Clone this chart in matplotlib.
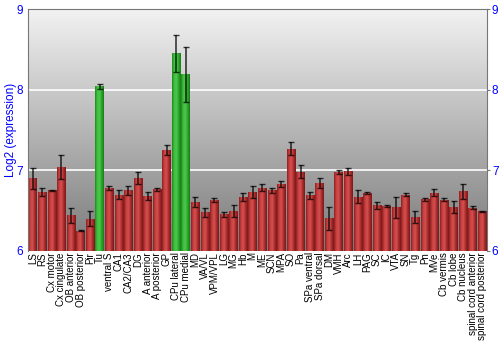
import numpy as np
import matplotlib.pyplot as plt
from matplotlib.colors import LinearSegmentedColormap

plt.rcParams['font.family'] = ['Liberation Sans', 'DejaVu Sans']

# brain regions and their log2 expression
regions = ['LS', 'RS', 'Cx motor', 'Cx cingulate', 'OB anterior', 'OB posterior', 'Pir', 'Tu',
           'ventral S', 'CA1', 'CA2/CA3', 'DG', 'A anterior', 'A posterior', 'GP',
           'CPu lateral', 'CPu medial', 'MD', 'VA/VL', 'VPM/VPL', 'LG', 'MG', 'Hb', 'M',
           'ME', 'SCN', 'MPA', 'SO', 'Pa', 'SPa ventral', 'SPa dorsal', 'DM', 'VMH', 'Arc',
           'LH', 'PAG', 'SC', 'IC', 'VTA', 'SN', 'Tg', 'Pn', 'MVe', 'Cb vermis', 'Cb lobe',
           'Cb nucleus', 'spinal cord anterior', 'spinal cord posterior']
values = [6.90, 6.73, 6.75, 7.04, 6.44, 6.25, 6.40, 8.04,
          6.78, 6.70, 6.75, 6.91, 6.68, 6.765, 7.25,
          8.45, 8.19, 6.61, 6.48, 6.63, 6.455, 6.50, 6.67, 6.73,
          6.785, 6.75, 6.83, 7.27, 6.98, 6.69, 6.84, 6.405, 6.98, 6.99,
          6.67, 6.72, 6.565, 6.56, 6.54, 6.70, 6.425, 6.64, 6.725, 6.635, 6.545,
          6.74, 6.535, 6.49]
errors = [0.13, 0.045, 0.005, 0.15, 0.095, 0.005, 0.09, 0.03,
          0.02, 0.05, 0.05, 0.075, 0.048, 0.02, 0.065,
          0.225, 0.34, 0.06, 0.054, 0.025, 0.033, 0.075, 0.05, 0.075,
          0.04, 0.025, 0.04, 0.085, 0.08, 0.04, 0.065, 0.14, 0.027, 0.045,
          0.08, 0.01, 0.045, 0.01, 0.135, 0.017, 0.075, 0.015, 0.043, 0.02, 0.07,
          0.09, 0.02, 0.008]
highlight = ['Tu', 'CPu lateral', 'CPu medial']

fig = plt.figure(figsize=(5, 3.5), dpi=100)
ax = fig.add_axes([0.056, 0.283, 0.918, 0.691])

x = np.arange(len(regions))
ax.set_xlim(-0.5, len(regions) - 0.5)
ax.set_ylim(6, 9)

# gray gradient background
bg = LinearSegmentedColormap.from_list('bg', ['#7a7a7a', '#f2f2f2'])
ax.imshow(np.linspace(0, 1, 256).reshape(-1, 1), cmap=bg, aspect='auto',
          extent=[-0.5, len(regions) - 0.5, 6, 9], origin='lower', zorder=0)

for yv in [7, 8]:
    ax.axhline(yv, color='white', lw=1.2, zorder=1)

# shaded bars: horizontal gradient clipped to each bar
red = LinearSegmentedColormap.from_list('r', ['#8c2020', '#c84040', '#d45050', '#a82a2a', '#7a1a1a'])
green = LinearSegmentedColormap.from_list('g', ['#1f8a1f', '#3fbf3f', '#4cc84c', '#2aa52a', '#1a7a1a'])
grad = np.linspace(0, 1, 64).reshape(1, -1)

bars = ax.bar(x, np.array(values) - 6, bottom=6, width=0.9, color='none', zorder=2)
for b, name in zip(bars, regions):
    cm = green if name in highlight else red
    im = ax.imshow(grad, cmap=cm, aspect='auto', zorder=2,
                   extent=[b.get_x(), b.get_x() + b.get_width(), 6, b.get_y() + b.get_height()])
    im.set_clip_path(b)

ax.errorbar(x, values, yerr=errors, fmt='none', ecolor='black', elinewidth=1.2,
            capsize=2.5, capthick=1, alpha=0.75, zorder=3)

ax.set_xticks(x)
ax.set_xticklabels(regions, rotation=90, fontsize=7)
ax.tick_params(axis='x', length=0, pad=1)

ax.set_yticks([6, 7, 8, 9])
ax.tick_params(axis='y', colors='#777777', labelcolor='blue', labelsize=8.5,
               left=False, labelleft=True, right=True, labelright=True,
               length=2.5, pad=1)
ax.set_ylabel('Log2 (expression)', color='blue', fontsize=8.5)
ax.yaxis.set_label_coords(-0.025, 0.5)

for s in ['left', 'right', 'top']:
    ax.spines[s].set_color('#777777')
ax.spines['bottom'].set_visible(False)

fig.savefig('out.png', dpi=100)
